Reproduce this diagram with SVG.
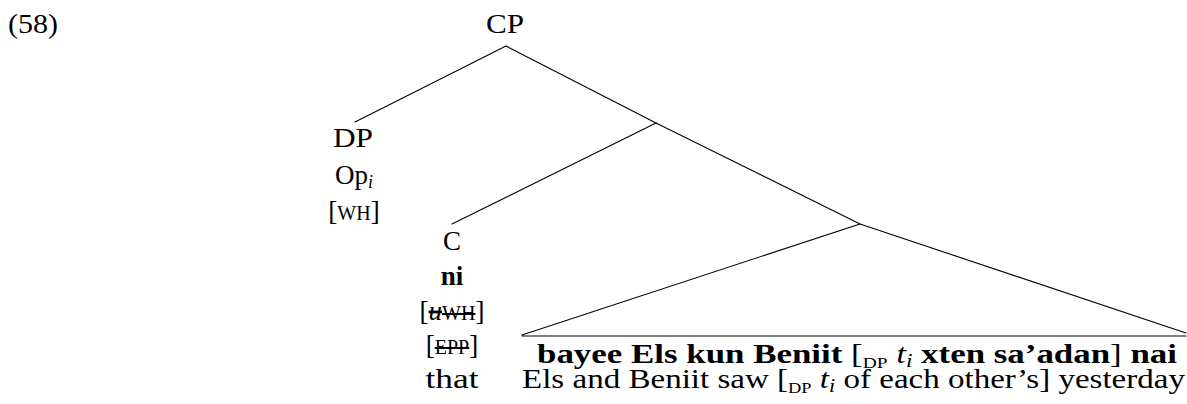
<svg xmlns="http://www.w3.org/2000/svg" width="1187" height="404" viewBox="0 0 1187 404">
  <style>
    text { font-family: "Liberation Serif", "Times New Roman", serif; font-size: 27px; fill: #000; }
    .mid { text-anchor: middle; }
    .b { font-weight: bold; }
    .it { font-style: italic; }
    .sc { font-size: 20px; }
    .sub { font-size: 18px; font-style: italic; }
    .subsc { font-size: 15px; }
    .strike { text-decoration: line-through; }
    .edge { stroke: #000; stroke-width: 1.1; fill: none; stroke-linecap: round; }
  </style>

  <!-- example number -->
  <g id="ex-number">
    <text x="8" y="33" textLength="50" lengthAdjust="spacingAndGlyphs">(58)</text>
  </g>

  <!-- tree branches -->
  <g id="connectors">
    <line class="edge" x1="506" y1="46" x2="355" y2="122"/>
    <line class="edge" x1="506" y1="46" x2="656" y2="123"/>
    <line class="edge" x1="656" y1="123" x2="452" y2="224"/>
    <line class="edge" x1="656" y1="123" x2="860" y2="224"/>
  </g>

  <g id="node-cp">
    <text class="mid" x="505" y="33" textLength="38" lengthAdjust="spacingAndGlyphs">CP</text>
  </g>

  <g id="node-dp">
    <text class="mid" x="353" y="147" textLength="40" lengthAdjust="spacingAndGlyphs">DP</text>
    <text class="mid" x="354" y="184">Op<tspan class="sub" dy="4">i</tspan></text>
    <text class="mid" x="354" y="220">[<tspan class="sc">WH</tspan>]</text>
  </g>

  <g id="node-c">
    <text class="mid" x="452" y="250">C</text>
    <text class="mid b" x="452" y="285">ni</text>
    <text class="mid" x="452" y="320">[<tspan class="strike"><tspan class="it">u</tspan><tspan class="sc">WH</tspan></tspan>]</text>
    <text class="mid" x="452" y="354">[<tspan class="sc strike">EPP</tspan>]</text>
    <text class="mid" x="452" y="388" textLength="53" lengthAdjust="spacingAndGlyphs">that</text>
  </g>

  <!-- TP shown as a roof over the clause -->
  <g id="node-tp">
    <path class="edge" d="M860 224 L522 335 M860 224 L1186 333 M522 336 L1186 336"/>
    <text x="537" y="363" textLength="640" lengthAdjust="spacingAndGlyphs"><tspan class="b">bayee Els kun Beniit</tspan> [<tspan class="subsc" dy="5">DP</tspan> <tspan class="it" dy="-5">t</tspan><tspan class="sub" dy="4">i</tspan> <tspan class="b" dy="-4">xten sa’adan</tspan>] <tspan class="b">nai</tspan></text>
    <text x="522" y="388" textLength="663" lengthAdjust="spacingAndGlyphs">Els and Beniit saw [<tspan class="subsc" dy="5">DP</tspan> <tspan class="it" dy="-5">t</tspan><tspan class="sub" dy="4">i</tspan> <tspan dy="-4">of each other’s] yesterday</tspan></text>
  </g>
</svg>
